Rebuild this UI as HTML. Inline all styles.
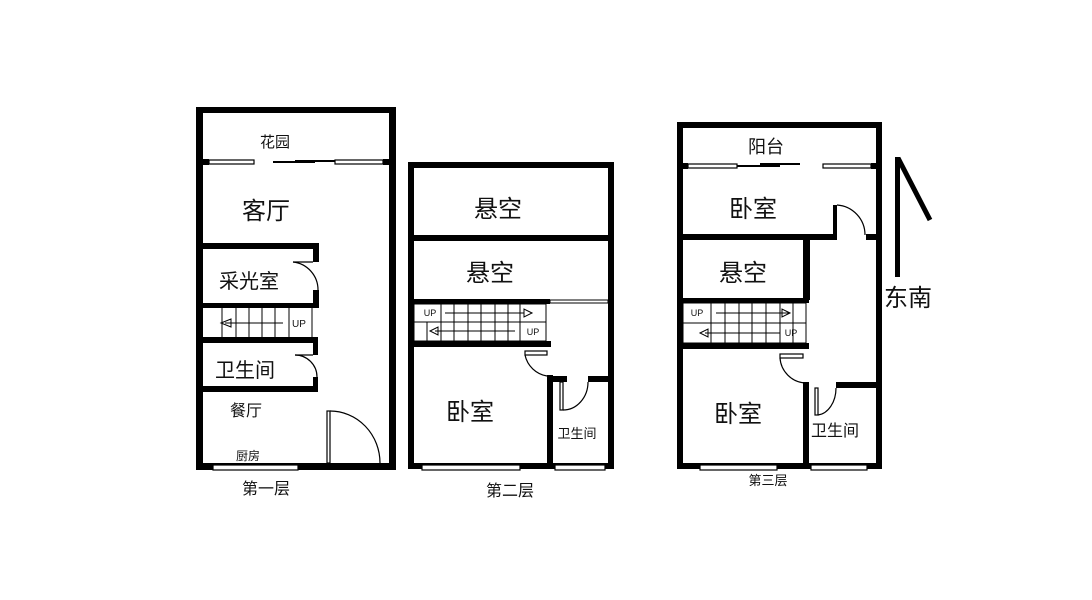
<!DOCTYPE html>
<html><head><meta charset="utf-8"><style>
html,body{margin:0;padding:0;background:#fff;width:1092px;height:600px;overflow:hidden}
svg text{font-family:"Liberation Sans","Noto Sans CJK SC",sans-serif;fill:#111;text-anchor:middle}
</style></head><body>
<svg width="1092" height="600" viewBox="0 0 1092 600" xmlns="http://www.w3.org/2000/svg">
<g fill="#000">
<!-- Floor 1 -->
<rect x="196" y="107" width="200" height="6"/>
<rect x="196" y="107" width="7" height="363"/>
<rect x="389" y="107" width="7" height="363"/>
<rect x="196" y="463" width="200" height="7"/>
<rect x="203" y="159" width="6" height="6"/><rect x="383" y="159" width="6" height="6"/>
<rect x="203" y="243" width="116" height="6"/>
<rect x="313" y="243" width="6" height="19"/><rect x="313" y="290" width="6" height="18"/>
<rect x="203" y="303" width="116" height="5"/>
<rect x="203" y="337" width="115" height="6"/>
<rect x="313" y="337" width="5" height="18"/><rect x="313" y="377" width="5" height="15"/>
<rect x="203" y="386" width="115" height="6"/>
<!-- Floor 2 -->
<rect x="408" y="162" width="206" height="6"/>
<rect x="408" y="162" width="6" height="307"/>
<rect x="608" y="162" width="6" height="307"/>
<rect x="408" y="463" width="206" height="6"/>
<rect x="414" y="235" width="194" height="6"/>
<rect x="414" y="299" width="136" height="5"/>
<rect x="414" y="341" width="137" height="6"/>
<rect x="547" y="375" width="6" height="94"/>
<rect x="553" y="376" width="14" height="6"/><rect x="588" y="376" width="20" height="6"/>
<!-- Floor 3 -->
<rect x="677" y="122" width="205" height="6"/>
<rect x="677" y="122" width="6" height="347"/>
<rect x="876" y="122" width="6" height="347"/>
<rect x="677" y="463" width="205" height="6"/>
<rect x="683" y="163" width="5" height="6"/><rect x="871" y="163" width="5" height="6"/>
<rect x="683" y="234" width="153" height="6"/>
<rect x="833" y="205" width="4" height="35"/>
<rect x="866" y="234" width="10" height="6"/>
<rect x="803" y="240" width="7" height="60"/>
<rect x="683" y="298" width="126" height="5"/>
<rect x="683" y="343" width="126" height="6"/>
<rect x="803" y="382" width="6" height="87"/>
<rect x="836" y="382" width="40" height="6"/>
<!-- arrow -->
<rect x="895" y="157" width="5" height="120"/>
</g>
<g fill="none" stroke="#000">
<g fill="#fff" stroke-width="1.2">
<rect x="209" y="160" width="45" height="4"/>
<rect x="335" y="160" width="48" height="4"/>
<rect x="213" y="465" width="85" height="5"/>
<rect x="422" y="465" width="98" height="5"/>
<rect x="555" y="465" width="50" height="5"/>
<rect x="688" y="164" width="49" height="4"/>
<rect x="823" y="164" width="48" height="4"/>
<rect x="700" y="465" width="77" height="5"/>
<rect x="811" y="465" width="56" height="5"/>
</g>
<line x1="273" y1="162" x2="315" y2="162" stroke-width="2"/>
<line x1="295" y1="161" x2="335" y2="161" stroke-width="2"/>
<!-- stairs floor1 -->
<g stroke-width="1">
<line x1="222" y1="308" x2="222" y2="337"/><line x1="236" y1="308" x2="236" y2="337"/>
<line x1="249" y1="308" x2="249" y2="337"/><line x1="262" y1="308" x2="262" y2="337"/>
<line x1="275" y1="308" x2="275" y2="337"/><line x1="289" y1="308" x2="289" y2="337"/>
<line x1="312" y1="308" x2="312" y2="337"/>
<line x1="225" y1="323" x2="283" y2="323"/>
<path d="M221 323 L231 319 L231 327 Z"/>
</g>
<path d="M293 262 A28 28 0 0 1 318 290" stroke-width="1.2"/>
<path d="M293 262 L313 262" stroke-width="1.2"/>
<path d="M295 355 A22 22 0 0 1 317 377" stroke-width="1.2"/>
<path d="M295 355 L313 355" stroke-width="1.2"/>
<rect x="327" y="411" width="3" height="52" stroke-width="1.2"/>
<path d="M330 411 A50 52 0 0 1 380 463" stroke-width="1.2"/>
<!-- floor2 stairs -->
<g stroke-width="1">
<rect x="414" y="304" width="132" height="37"/>
<line x1="414" y1="322" x2="546" y2="322"/>
<line x1="427" y1="322" x2="427" y2="341"/>
<line x1="441" y1="304" x2="441" y2="341"/><line x1="454" y1="304" x2="454" y2="341"/>
<line x1="468" y1="304" x2="468" y2="341"/><line x1="481" y1="304" x2="481" y2="341"/>
<line x1="495" y1="304" x2="495" y2="341"/><line x1="508" y1="304" x2="508" y2="341"/>
<line x1="520" y1="304" x2="520" y2="341"/>
<line x1="445" y1="313" x2="524" y2="313"/><line x1="435" y1="331" x2="515" y2="331"/>
<path d="M532 313 L524 309 L524 317 Z"/>
<path d="M430 331 L438 327 L438 335 Z"/>
<rect x="550" y="300" width="58" height="3"/>
</g>
<rect x="525" y="351" width="22" height="4" stroke-width="1.2"/>
<path d="M525 355 A27 27 0 0 0 547 376" stroke-width="1.2"/>
<rect x="560" y="382" width="3" height="28" stroke-width="1.2"/>
<path d="M563 410 A25 28 0 0 0 588 382" stroke-width="1.2"/>
<!-- floor3 -->
<line x1="737" y1="166" x2="780" y2="166" stroke-width="2"/>
<line x1="760" y1="164" x2="800" y2="164" stroke-width="2"/>
<path d="M837 205 A30 30 0 0 1 865 235" stroke-width="1.2"/>
<g stroke-width="1">
<rect x="683" y="303" width="123" height="40"/>
<line x1="683" y1="323" x2="806" y2="323"/>
<line x1="711" y1="303" x2="711" y2="343"/><line x1="725" y1="303" x2="725" y2="343"/>
<line x1="739" y1="303" x2="739" y2="343"/><line x1="752" y1="303" x2="752" y2="343"/>
<line x1="766" y1="303" x2="766" y2="343"/><line x1="780" y1="303" x2="780" y2="343"/>
<line x1="793" y1="303" x2="793" y2="343"/>
<line x1="716" y1="313" x2="790" y2="313"/><line x1="705" y1="333" x2="780" y2="333"/>
<path d="M790 313 L782 309 L782 317 Z"/>
<path d="M700 333 L708 329 L708 337 Z"/>
</g>
<rect x="780" y="354" width="23" height="4" stroke-width="1.2"/>
<path d="M780 358 A27 27 0 0 0 805 383" stroke-width="1.2"/>
<rect x="815" y="388" width="3" height="27" stroke-width="1.2"/>
<path d="M818 415 A20 27 0 0 0 836 388" stroke-width="1.2"/>
</g>
<line x1="898" y1="158" x2="930" y2="220" stroke="#000" stroke-width="5"/>
<!-- labels -->
<text x="275" y="147" font-size="15">花园</text>
<text x="266" y="219" font-size="24">客厅</text>
<text x="249" y="288" font-size="20">采光室</text>
<text x="245" y="377" font-size="20">卫生间</text>
<text x="246" y="416" font-size="16">餐厅</text>
<text x="248" y="460" font-size="12">厨房</text>
<text x="266" y="494" font-size="16">第一层</text>
<text x="498" y="217" font-size="24">悬空</text>
<text x="490" y="281" font-size="24">悬空</text>
<text x="470" y="420" font-size="24">卧室</text>
<text x="577" y="438" font-size="13">卫生间</text>
<text x="510" y="496" font-size="16">第二层</text>
<text x="766" y="153" font-size="18">阳台</text>
<text x="753" y="217" font-size="24">卧室</text>
<text x="743" y="281" font-size="24">悬空</text>
<text x="738" y="422" font-size="24">卧室</text>
<text x="835" y="436" font-size="16">卫生间</text>
<text x="768" y="485" font-size="13">第三层</text>
<text x="908" y="306" font-size="24">东南</text>
<g font-size="9">
<text x="299" y="327" font-size="10">UP</text>
<text x="430" y="316">UP</text>
<text x="533" y="335">UP</text>
<text x="697" y="316">UP</text>
<text x="791" y="336">UP</text>
</g>
</svg>
</body></html>
